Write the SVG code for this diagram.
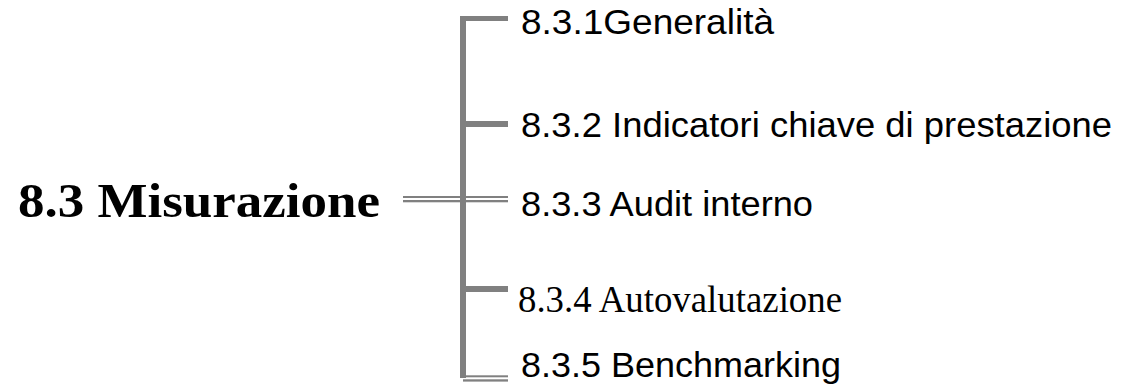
<svg xmlns="http://www.w3.org/2000/svg" width="1131" height="388" viewBox="0 0 1131 388">
  <style>
    .bar { fill: #808080; }
    .sans { font-family: "Liberation Sans", Arial, sans-serif; font-size: 35px; fill: #000; }
    .serif { font-family: "Liberation Serif", "Times New Roman", serif; fill: #000; }
    .title { font-size: 49px; font-weight: bold; }
    .sub { font-size: 37px; }
  </style>

  <!-- bracket tree connecting the heading to its sub-sections -->
  <g id="connectors">
    <!-- main vertical spine -->
    <rect class="bar" x="460" y="16" width="6" height="362"/>
    <!-- 8.3.1 -->
    <rect class="bar" x="460" y="16" width="48" height="5"/>
    <!-- 8.3.2 -->
    <rect class="bar" x="460" y="121" width="48" height="6"/>
    <!-- double link from heading through spine to 8.3.3 -->
    <rect class="bar" x="403" y="196" width="105" height="2"/>
    <rect class="bar" x="403" y="200" width="105" height="2.3"/>
    <!-- 8.3.4 -->
    <rect class="bar" x="460" y="286" width="48" height="6"/>
    <!-- 8.3.5 (double foot) -->
    <rect class="bar" x="463" y="375.3" width="45" height="2"/>
    <rect class="bar" x="463" y="379.3" width="45" height="2.3"/>
  </g>

  <g id="node-8-3">
    <text class="serif title" x="18" y="216.5" textLength="362" lengthAdjust="spacingAndGlyphs">8.3 Misurazione</text>
  </g>
  <g id="node-8-3-1">
    <text class="sans" x="521" y="34" textLength="253" lengthAdjust="spacingAndGlyphs">8.3.1Generalità</text>
  </g>
  <g id="node-8-3-2">
    <text class="sans" x="521" y="137" textLength="591" lengthAdjust="spacingAndGlyphs">8.3.2 Indicatori chiave di prestazione</text>
  </g>
  <g id="node-8-3-3">
    <text class="sans" x="521" y="215.5" textLength="292" lengthAdjust="spacingAndGlyphs">8.3.3 Audit interno</text>
  </g>
  <g id="node-8-3-4">
    <text class="serif sub" x="518" y="311.5" textLength="324" lengthAdjust="spacingAndGlyphs">8.3.4 Autovalutazione</text>
  </g>
  <g id="node-8-3-5">
    <text class="sans" x="521" y="377" textLength="320" lengthAdjust="spacingAndGlyphs">8.3.5 Benchmarking</text>
  </g>
</svg>
